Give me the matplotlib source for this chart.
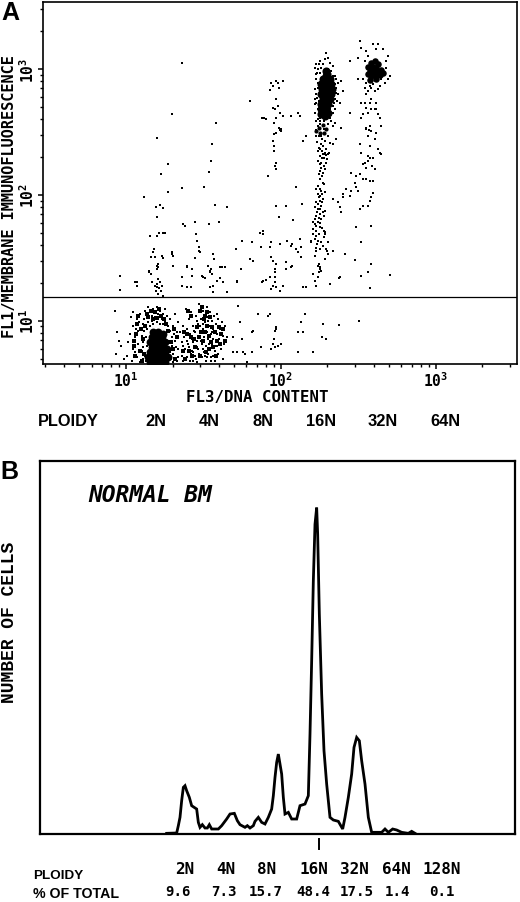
import numpy as np
import matplotlib
matplotlib.use('Agg')
import matplotlib.pyplot as plt
from matplotlib.ticker import LogLocator, NullFormatter, FixedLocator, FixedFormatter

plt.rcParams['mathtext.fontset'] = 'custom'
plt.rcParams['mathtext.rm'] = 'DejaVu Sans Mono:bold'

# list mode events, as (FL3 channel, FL1 channel)
sparse_2n_4n = [
    (545,908),(515,757),(470,685),(503,607),(483,575),(546,533),(505,520),(432,507),(647,729),(637,665),
    (632,615),(628,582),(612,537),(645,483),(682,475),(468,475),(480,482),(490,472),(470,445),(585,430),
    (548,425),(556,420),(658,430),(628,425),(488,397),(478,397),(495,397),(450,390),(470,390),(462,350),
    (515,335),(520,330),(460,340),(485,330),(452,325),(465,325),(490,322),(597,355),(600,340),(585,322),
    (587,395),(590,375),(640,335),(642,320),(625,300),(630,285),(560,300),(575,290),(675,295),(660,295),
    (708,350),(725,375),(755,370),(790,395),(780,398),(750,320),(760,315),(722,290),(710,255),(470,300),
    (473,295),(447,280),(452,275),(520,300),(360,270),(360,228),(405,250),(412,250),(410,238),(455,250),
    (465,240),(472,245),(480,250),(470,235),(478,232),(485,240),(468,225),(482,225),(475,215),(490,210),
    (475,260),(545,240),(560,235),(572,235),(545,265),(560,295),(575,268),(610,265),(605,268),(615,262),
    (630,280),(635,275),(640,240),(630,235),(632,290),(660,262),(665,295),(640,222),(680,222),(712,250),
    (670,250),(650,255),(448,283),(474,305),(471,290),(516,340),(598,345),
]
column_8n = [
    (830,855),(815,850),(850,855),(820,840),(812,828),(835,850),(838,835),(828,800),(835,780),(825,770),
    (820,775),(840,760),(850,750),(793,745),(800,740),(788,745),(830,745),(822,730),(838,715),(845,705),
    (828,700),(822,695),(820,675),(823,660),(822,645),(828,610),(825,600),(830,590),(805,570),(750,795),
    (890,535),(830,480),(858,480),(908,485),(880,436),(838,445),(790,405),(815,370),(862,375),(840,365),
    (785,355),(812,355),(875,360),(903,355),(890,350),(877,365),(895,340),(905,325),(815,325),(820,315),
    (830,305),(825,290),(860,310),(878,298),(860,290),(790,255),(800,258),(810,265),(825,280),(825,265),
    (825,250),(820,240),(850,240),(815,230),(830,235),(840,225),(910,235),(918,235),(875,295),(935,375),
    (950,390),(900,750),(895,760),(875,750),(920,690),(910,675),(900,380),(845,712),(842,708),(788,250),
]
column_16n = [
    (950,240),(945,255),(955,265),(958,280),(960,295),(965,285),(955,300),(940,275),(945,330),(950,345),
    (960,350),(975,320),(985,335),(980,350),(970,360),(955,375),(945,380),(935,370),(940,395),(950,405),
    (975,400),(960,415),(972,405),(975,395),(945,425),(955,430),(965,440),(940,430),(950,450),(960,455),
    (970,460),(955,470),(945,475),(965,480),(950,490),(960,495),(970,500),(955,515),(960,510),(965,525),
    (955,540),(970,550),(960,560),(975,590),(965,595),(960,605),(968,625),(975,635),(960,650),(965,665),
    (940,410),(948,352),(962,290),(958,305),(982,345),(985,370),(972,385),(947,440),(962,470),(955,485),
    (968,515),(962,530),(972,545),(958,575),(978,610),(962,630),(955,645),(970,660),(966,680),(958,690),
    (975,640),(970,635),(985,637),(980,632),(988,640),(955,720),(962,725),(972,712),(950,708),(965,690),
    (1000,345),(1018,262),(990,245),(1035,335),(1025,715),(1050,760),(990,670),(1010,680),(1000,665),
    (952,365),(965,372),(958,395),(968,412),(948,418),(962,428),(972,448),(958,442),(975,465),(952,462),
    (968,490),(958,505),(975,520),(950,530),(968,570),(962,585),(972,600),(955,615),(980,650),(952,672),
    (975,675),(962,700),(948,690),(985,690),(958,655),(968,645),(972,625),(982,620),(965,610),(970,580),
]
halo_16n = [
    (950,905),(960,915),(975,920),(985,925),(980,940),(990,910),(1000,900),(945,895),(955,890),(948,875),
    (1005,870),(1010,860),(1015,850),(1025,855),(1005,845),(945,830),(950,815),(1010,820),(1015,815),(1030,825),
    (945,800),(950,790),(1005,800),(1000,780),(955,770),(990,770),(1005,770),(945,760),(1000,760),(955,740),
    (980,740),(1005,730),(950,735),(958,905),(970,905),(965,895),(985,890),(995,885),(950,860),(955,850),
    (1008,835),(960,735),(972,735),(985,725),(1000,720),(945,785),(1012,795),(1020,790),(952,880),(962,878),
    (1000,870),(955,835),(952,805),(958,795),(1002,790),(962,745),(990,745),(995,735),
]
core_16n = [
    (980,870),(970,860),(990,860),(965,845),(975,845),(985,845),(995,845),(968,830),(978,830),(988,830),
    (998,830),(965,815),(975,815),(985,815),(995,815),(970,800),(980,800),(990,800),(965,785),(975,785),
    (985,785),(975,770),(965,770),(985,760),(965,755),(975,750),(980,885),(982,875),
]
ring_16n = [(958,715),(970,722),(978,712),(962,700),(972,698),(950,705)]
column_32n = [
    (1082,975),(1085,955),(1120,965),(1135,965),(1130,950),(1150,950),(1165,930),(1160,915),(1100,945),(1105,930),
    (1075,925),(1050,915),(1095,915),(1160,895),(1170,870),(1165,860),(1155,850),(1145,860),(1090,860),(1075,860),
    (1100,850),(1110,840),(1120,845),(1135,830),(1105,825),(1100,815),(1115,835),(1100,775),(1115,770),(1130,770),
    (1090,755),(1135,755),(1105,760),(1085,745),(1110,720),(1100,715),(1115,705),(1130,700),(1145,720),(1105,690),
    (1125,680),(1080,665),(1110,660),(1140,640),(1085,640),(1105,630),(1120,625),(1105,615),(1095,610),(1118,600),
    (1090,605),(1125,590),(1100,595),(1055,580),(1070,570),(1080,575),(1090,560),(1065,550),(1100,560),(1110,555),
    (1120,555),(1070,535),(1075,525),(1055,525),(1040,530),(1030,515),(1050,510),(1120,517),(1115,505),(1110,495),
    (1105,480),(1090,480),(1080,470),(1000,500),(1015,490),(1020,475),(1025,460),(1030,505),(1070,415),(1115,420),
    (1085,370),(1065,318),(1115,305),(1085,270),(1105,280),(1170,272),(1110,232),(1020,265),(1100,710),(1108,708),
    (1125,770),(1140,745),(1145,635),(1135,650),(1110,625),(1095,835),(1125,825),(1140,840),(1115,800),(1130,790),
    (1095,790),(1085,790),(1110,790),
]
core_32n = [
    (1125,915),(1115,908),(1135,905),(1105,898),(1120,898),(1130,893),(1145,888),(1110,885),(1120,885),(1135,882),
    (1150,880),(1115,870),(1125,872),(1140,872),(1105,875),(1112,858),(1130,860),
]
# events below the gate line
halo_2n = [
    (380,30),(385,70),(390,95),(395,15),(400,50),(400,120),(405,40),(405,85),(410,140),(410,25),
    (415,65),(415,105),(420,10),(420,155),(425,45),(425,90),(430,125),(430,70),(435,165),(435,30),
    (440,110),(440,145),(445,130),(445,175),(450,120),(450,160),(455,135),(455,150),(460,170),(460,125),
    (465,145),(470,175),(470,130),(475,155),(480,165),(480,125),(485,140),(490,155),(490,125),(495,170),
    (495,135),(500,150),(505,120),(510,105),(510,140),(515,85),(515,60),(520,120),(520,35),(525,155),
    (525,75),(530,15),(530,100),(535,50),(535,130),(350,100),(345,165),(348,35),(358,75),(362,60),
    (372,20),(392,145),(398,160),(408,110),(418,130),(428,20),(432,105),(438,85),(438,15),(512,20),
    (518,10),(508,75),(522,95),(528,55),(533,25),(428,55),(433,140),(442,60),
]
low_4n = [
    (540,100),(545,70),(545,30),(548,15),(550,120),(552,85),(555,50),(558,170),(560,110),(562,25),
    (565,65),(568,140),(570,95),(572,160),(575,45),(575,80),(578,15),(580,120),(582,60),(585,30),
    (585,100),(588,150),(590,75),(592,10),(595,125),(595,50),(598,185),(600,90),(602,140),(605,25),
    (605,65),(608,110),(610,165),(612,40),(612,85),(615,130),(618,15),(618,60),(620,100),(620,175),
    (622,145),(625,35),(625,80),(628,120),(630,50),(630,160),(632,15),(632,95),(635,65),(635,135),
    (638,30),(640,110),(640,80),(642,150),(645,45),(645,15),(648,125),(650,60),(650,95),(652,155),
    (655,35),(655,140),(658,80),(660,110),(662,50),(665,130),(668,20),(670,90),(672,65),(675,120),
    (678,75),(680,85),(568,55),(572,35),(578,70),(582,105),(588,20),(592,55),(598,35),(603,75),
    (608,50),(615,30),(622,25),(628,65),(634,25),(642,30),(648,75),(644,60),(600,120),(590,135),
    (610,125),(625,135),(635,100),(550,60),(560,75),(570,15),(580,40),
]
heavy_low = [
    (402,60),(403,75),(405,30),(408,95),(412,125),(415,150),(420,45),(422,110),(425,15),(428,80),
    (432,35),(435,120),(440,155),(445,145),(452,165),(458,140),(465,160),(472,142),(478,170),(484,150),
    (492,140),(498,125),(505,105),(508,45),(512,70),(518,50),(522,110),(526,20),(532,85),(548,45),
    (552,100),(556,20),(560,95),(566,45),(572,85),(576,30),(582,80),(586,55),(590,115),(596,85),
    (600,30),(604,100),(608,75),(612,140),(616,100),(618,40),(622,120),(626,50),(628,90),(632,70),
    (636,115),(640,55),(644,100),(648,30),(652,75),(656,115),(660,65),(664,95),(670,110),(675,75),
    (622,160),(615,150),(630,145),(565,165),(572,150),(605,175),(600,165),
]
low_sparse = [
    (700,85),(710,40),(715,180),(720,130),(725,80),(735,35),(740,10),(755,40),(755,100),(758,105),
    (775,155),(785,55),(805,150),(812,155),(828,110),(830,115),(826,105),(822,80),(820,65),(825,55),
    (815,50),(835,60),(845,65),(895,100),(910,100),(905,130),(915,155),(940,40),(970,125),(968,85),
    (980,80),(1018,122),(1078,135),(895,40),(700,40),(730,40),
]
core_2n = [
    (450,10),(465,10),(480,10),(495,10),(445,25),(460,25),(475,25),(490,25),(505,25),(450,40),
    (465,40),(480,40),(495,40),(455,55),(470,55),(485,55),(500,50),(450,70),(465,70),(480,70),
    (495,70),(455,85),(470,85),(485,85),(490,95),(475,100),(460,102),
]
gate_channel = 206

# histogram trace, channel and cell count
hist_channel = [500,530,535,540,545,550,555,560,568,575,590,595,600,607,615,622,628,635,655,665,680,690,703,712,
                720,735,742,750,760,765,775,785,795,805,815,820,825,830,835,840,845,850,855,865,875,890,900,915,925,
                930,935,940,945,950,953,958,965,972,980,990,1000,1015,1028,1035,1045,1055,1062,1070,1078,1085,1095,
                1105,1115,1145,1155,1165,1178,1190,1205,1225,1235,1245]
hist_count = [2,3,25,50,100,140,145,130,110,85,75,35,20,28,18,18,28,15,15,25,45,60,62,40,
              28,20,25,18,25,38,50,35,30,50,75,115,170,215,240,210,180,110,60,65,45,45,85,90,115,
              300,520,760,930,980,900,660,420,250,150,50,42,38,15,50,110,180,260,290,280,220,150,
              50,5,5,15,5,15,12,5,2,8,2]

ploidy_a = ['2N','4N','8N','16N','32N','64N']
ploidy_b = ['2N','4N','8N','16N','32N','64N','128N']
percent_total = ['9.6','7.3','15.7','48.4','17.5','1.4','0.1']
decade_labels = [r'$\mathrm{10^{1}}$', r'$\mathrm{10^{2}}$', r'$\mathrm{10^{3}}$']


def fl3(ch):
    return 10 ** (1 + (np.asarray(ch, dtype=float) - 378) / 465)


def fl1(ch):
    return 10 ** (1 + (np.asarray(ch, dtype=float) - 135) / 378)


def draw_dots(ax, pts, size, marker='s'):
    pts = np.array(pts)
    ax.scatter(fl3(pts[:, 0]), fl1(pts[:, 1]), s=size, marker=marker, c='black', linewidths=0, zorder=3)


W, H = 520, 903
mono = 'DejaVu Sans Mono'
sans = 'Liberation Sans'
fig = plt.figure(figsize=(W / 100, H / 100), dpi=100)


def put(x, y, s, **kw):
    kw.setdefault('ha', 'center')
    kw.setdefault('va', 'center')
    fig.text(x / W, 1 - y / H, s, **kw)


# panel A
ax = fig.add_axes([43.3 / W, 1 - 365 / H, 473.7 / W, 362 / H])
ax.set_xscale('log')
ax.set_yscale('log')
ax.set_xlim(fl3(130), fl3(1552))
ax.set_ylim(fl1(5), fl1(1092))
for dots in [sparse_2n_4n, column_8n, column_16n, halo_16n, column_32n, halo_2n, low_4n, low_sparse]:
    draw_dots(ax, dots, 2.8)
draw_dots(ax, heavy_low, 6)
draw_dots(ax, ring_16n, 9, 'o')
draw_dots(ax, core_16n, 34, 'o')
draw_dots(ax, core_32n, 22, 'o')
draw_dots(ax, core_2n, 32, 'o')
ax.axhline(fl1(gate_channel), color='black', lw=0.9)

ax.xaxis.set_major_locator(FixedLocator([10, 100, 1000]))
ax.yaxis.set_major_locator(FixedLocator([10, 100, 1000]))
ax.xaxis.set_major_formatter(FixedFormatter(decade_labels))
ax.yaxis.set_major_formatter(FixedFormatter(decade_labels))
for axis in [ax.xaxis, ax.yaxis]:
    axis.set_minor_locator(LogLocator(base=10, subs=np.arange(2, 10), numticks=12))
    axis.set_minor_formatter(NullFormatter())
ax.tick_params(which='major', length=3.5, width=1.1, labelsize=10.5, pad=1)
ax.tick_params(which='minor', length=2.5, width=1.0)
for lab in ax.get_yticklabels():
    lab.set_rotation(90)
    lab.set_va('center')
for sp in ax.spines.values():
    sp.set_linewidth(1.2)

put(10, 197, 'FL1/MEMBRANE IMMUNOFLUORESCENCE', rotation=90, family=mono, fontsize=11, weight='bold')
put(257, 398, 'FL3/DNA CONTENT', family=mono, fontsize=11.3, weight='bold')
put(68, 422, 'PLOIDY', family=sans, fontsize=11.8, weight='bold')
for px, s in zip([156, 209, 263, 321, 383, 445], ploidy_a):
    put(px, 422, s, family=sans, fontsize=11.8, weight='bold')
put(10, 13, 'A', family=sans, fontsize=18, weight='bold')

# panel B
bx = fig.add_axes([40 / W, 1 - 835 / H, 475 / W, 373 / H])
bx.set_xlim(120, 1545)
bx.set_ylim(0, 1120)
bx.plot(hist_channel, hist_count, color='black', lw=2.0, solid_joinstyle='miter')
bx.set_xticks([])
bx.set_yticks([])
for sp in bx.spines.values():
    sp.set_linewidth(1.6)
bx.plot([958, 958], [-15, -45], color='black', lw=1.4, clip_on=False)

put(150, 495, 'NORMAL BM', family=mono, fontsize=16.5, weight='bold', style='oblique')
put(10, 622, 'NUMBER OF CELLS', rotation=90, family='Liberation Mono', fontsize=13, weight='bold')
put(9, 472, 'B', family=sans, fontsize=18, weight='bold')

put(33, 876, 'PLOIDY', ha='left', family=sans, fontsize=9.7, weight='bold')
put(33, 894, '% OF TOTAL', ha='left', family=sans, fontsize=10.2, weight='bold')
for px, s in zip([185, 226, 267, 314, 354, 396, 442], ploidy_b):
    put(px, 870, s, family=mono, fontsize=11.5, weight='bold')
for px, s in zip([178, 224, 266, 313, 357, 397, 442], percent_total):
    put(px, 892, s, family=mono, fontsize=10.2, weight='bold')

fig.savefig('out.png', dpi=100)
